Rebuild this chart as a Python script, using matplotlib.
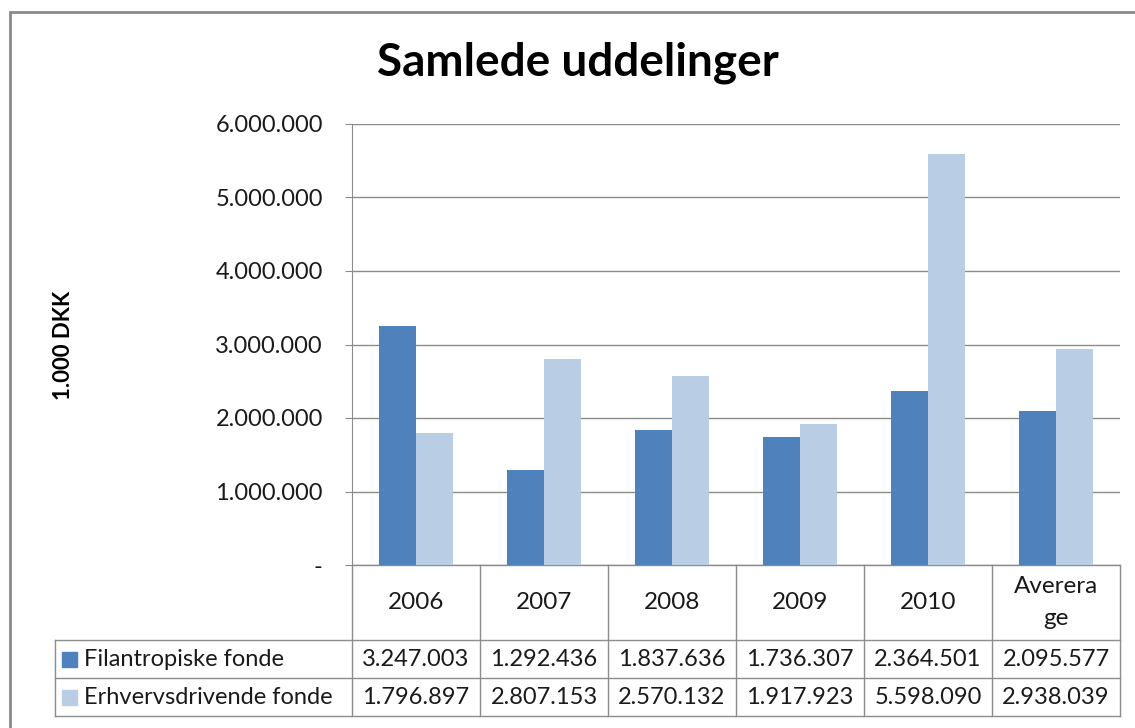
import numpy as np
import matplotlib
matplotlib.use("Agg")
import matplotlib.pyplot as plt
from matplotlib.patches import Rectangle

plt.rcParams['font.family'] = ['Lato', 'DejaVu Sans']

# data
categories = ["2006", "2007", "2008", "2009", "2010", "Averera\nge"]
series_names = ["Filantropiske fonde", "Erhvervsdrivende fonde"]
filantropiske = [3247003, 1292436, 1837636, 1736307, 2364501, 2095577]
erhvervs = [1796897, 2807153, 2570132, 1917923, 5598090, 2938039]
yticks = [0, 1000000, 2000000, 3000000, 4000000, 5000000, 6000000]

colors = ["#4F81BD", "#B9CDE5"]
grid_col = "#8C8C8C"
text_col = "#1A1A1A"


def fmt(v):
    return f"{v:,}".replace(",", ".")


W, H = 1135, 728
fig = plt.figure(figsize=(W / 100, H / 100), dpi=100)
ax = fig.add_axes([352 / W, 1 - 565 / H, (1120 - 352) / W, (565 - 124) / H])

# outer chart border
fig.patches.append(Rectangle((10 / W, -0.1), 1.2, 1 - 12 / H + 0.1,
                             transform=fig.transFigure, fill=False,
                             edgecolor="#8A8A8A", linewidth=2, zorder=0))

x = np.arange(len(categories))
w = 1 / 3.5
ax.bar(x - w / 2, filantropiske, w, color=colors[0], zorder=3)
ax.bar(x + w / 2, erhvervs, w, color=colors[1], zorder=3)

ax.set_xlim(-0.5, len(categories) - 0.5)
ax.set_ylim(0, 6000000)
ax.set_yticks(yticks)
ax.set_yticklabels(["-"] + [fmt(v) for v in yticks[1:]], fontsize=17, color=text_col)
ax.tick_params(axis="y", length=5, color=grid_col, pad=16)
ax.set_xticks([])
ax.grid(axis="y", color=grid_col, linewidth=1, zorder=0)
for side in ["top", "right", "bottom"]:
    ax.spines[side].set_visible(False)
ax.spines["left"].set_color(grid_col)

fig.text(63 / W, 1 - 345 / H, "1.000 DKK", fontsize=16, fontweight="bold",
         rotation=90, ha="center", va="center")

fig.text(578 / W, 1 - 63 / H, "Samlede uddelinger", fontsize=33,
         fontweight="bold", ha="center", va="center")

# data table below the plot
h_head = 75 / 441
h_row = 38 / 441
label_left = (55 - 352) / 128 - 0.5
tr = ax.get_xaxis_transform()
lkw = dict(color=grid_col, linewidth=1, transform=tr, clip_on=False)

y_head_bot = -h_head
y_r1 = -h_head - h_row
y_r2 = -h_head - 2 * h_row
right = len(categories) - 0.5

# horizontal lines
ax.plot([-0.5, right], [0, 0], **lkw)
for yy in [y_head_bot, y_r1, y_r2]:
    ax.plot([label_left, right], [yy, yy], **lkw)
# vertical lines
for i in range(len(categories) + 1):
    ax.plot([i - 0.5, i - 0.5], [0, y_r2], **lkw)
ax.plot([label_left, label_left], [y_head_bot, y_r2], **lkw)

for i, c in enumerate(categories):
    ax.text(i, -h_head / 2, c, ha="center", va="center", fontsize=17.5,
            color=text_col, transform=tr, linespacing=1.6)

key = 15  # legend key size in pixels
for r, (name, vals) in enumerate(zip(series_names, [filantropiske, erhvervs])):
    yc = y_head_bot - h_row * (r + 0.5)
    yc_px = 565 + 75 + 38 * (r + 0.5)
    fig.patches.append(Rectangle((62 / W, 1 - (yc_px + key / 2) / H), key / W, key / H,
                                 color=colors[r], transform=fig.transFigure))
    fig.text(84 / W, 1 - yc_px / H, name, ha="left", va="center", fontsize=17,
             color=text_col)
    for i, v in enumerate(vals):
        ax.text(i, yc, fmt(v), ha="center", va="center", fontsize=17,
                color=text_col, transform=tr)

fig.savefig("out.png", dpi=100)
